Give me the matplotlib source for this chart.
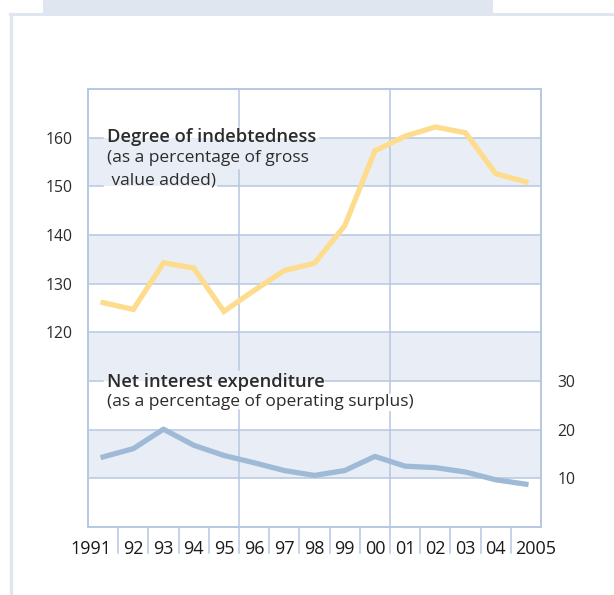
import matplotlib
matplotlib.use("Agg")
import matplotlib.pyplot as plt
from matplotlib.patches import Rectangle
from matplotlib.lines import Line2D
from matplotlib.transforms import ScaledTranslation

years = list(range(1991, 2006))
year_labels = ["1991", "92", "93", "94", "95", "96", "97", "98", "99", "00",
               "01", "02", "03", "04", "2005"]
indebtedness = [126.1, 124.7, 134.3, 133.2, 124.3, 128.6, 132.7, 134.2,
                141.9, 157.3, 160.3, 162.2, 161.0, 152.6, 150.9]
net_interest = [14.4, 16.1, 20.1, 16.8, 14.7, 13.2, 11.6, 10.6, 11.6, 14.5,
                12.5, 12.2, 11.3, 9.7, 8.8]
left_ticks = [120, 130, 140, 150, 160]
right_ticks = [10, 20, 30]

plt.rcParams['font.family'] = ['Open Sans', 'DejaVu Sans']
TXT = '#2b2b2b'
GRID = '#B7C8E2'
BAND = '#E9EEF6'
FRAME = '#DFE6F0'
XLAB = 13
XPAD = 9

fig = plt.figure(figsize=(6.14, 5.95), dpi=100)
W, H = 614, 595

# page frame decorations
fig.patches.append(Rectangle((43 / W, 1 - 14 / H), 450 / W, 14 / H,
                             transform=fig.transFigure, facecolor=FRAME,
                             edgecolor='none', zorder=0))
fig.lines.append(Line2D([10 / W, 1], [1 - 14 / H, 1 - 14 / H],
                        transform=fig.transFigure, color=FRAME, lw=2.2))
fig.lines.append(Line2D([11 / W, 11 / W], [0, 1 - 14 / H],
                        transform=fig.transFigure, color=FRAME, lw=2.4))

ax = fig.add_axes([88 / W, 1 - 527 / H, 453 / W, 438 / H])
ax.set_xlim(1990.5, 2005.5)
ax.set_ylim(80, 170)

# alternating bands
for lo in range(90, 170, 20):
    ax.axhspan(lo, lo + 10, facecolor=BAND, edgecolor='none', zorder=0)

# horizontal grid lines (with gaps behind labels)
gaps_h = {160: (0.033, 0.512), 150: (0.033, 0.287), 110: (0.033, 0.523)}
for y in range(90, 170, 10):
    if y in gaps_h:
        a, b = gaps_h[y]
        ax.axhline(y, 0, a, color=GRID, lw=1.1, zorder=1)
        ax.axhline(y, b, 1, color=GRID, lw=1.1, zorder=1)
    else:
        ax.axhline(y, color=GRID, lw=1.1, zorder=1)

# vertical grid lines (with gaps)
gaps_v = {1995.5: [(0.815, 0.913), (0.267, 0.358)], 2000.5: [(0.263, 0.306)]}
for x, gaps in gaps_v.items():
    segs = []
    start = 0.0
    for a, b in sorted(gaps):
        segs.append((start, a))
        start = b
    segs.append((start, 1.0))
    for a, b in segs:
        ax.axvline(x, a, b, color=GRID, lw=1.1, zorder=1)

# tick separators below axis
for i in range(len(years) - 1):
    xs = (years[i] + years[i + 1]) / 2
    ax.plot([xs, xs], [0, -0.06], transform=ax.get_xaxis_transform(),
            color=GRID, lw=1.1, clip_on=False, zorder=1)

ax.plot(years, indebtedness, color='#FDDC8E', lw=3.8, solid_joinstyle='miter',
        zorder=3)

ax2 = ax.twinx()
ax2.set_ylim(0, 90)
ax2.plot(years, net_interest, color='#9FBAD7', lw=3.8, zorder=3)

for a in (ax, ax2):
    for s in a.spines.values():
        s.set_color(GRID)
        s.set_linewidth(1.3)

ax.set_yticks(left_ticks)
ax.set_yticklabels([str(t) for t in left_ticks])
ax.tick_params(axis='y', length=0, pad=11, labelsize=11.3, labelcolor=TXT)
ax2.set_yticks(right_ticks)
ax2.set_yticklabels([str(t) for t in right_ticks])
ax2.tick_params(axis='y', length=0, pad=12, labelsize=11.3, labelcolor=TXT)

# x labels: middle ones as ticks, end ones aligned against separators
ax.set_xticks(years)
ax.set_xticklabels([""] + year_labels[1:-1] + [""])
ax.tick_params(axis='x', length=0, pad=XPAD, labelsize=XLAB, labelcolor='#1a1a1a')
xt = ax.get_xaxis_transform()
ax.text(years[0] + 0.5, 0, year_labels[0], ha='right', va='top',
        fontsize=XLAB, color='#1a1a1a', clip_on=False,
        transform=xt + ScaledTranslation(-5 / 72, -XPAD / 72, fig.dpi_scale_trans))
ax.text(years[-1] - 0.5, 0, year_labels[-1], ha='left', va='top',
        fontsize=XLAB, color='#1a1a1a', clip_on=False,
        transform=xt + ScaledTranslation(3 / 72, -XPAD / 72, fig.dpi_scale_trans))

# annotations
ax.text(0.042, 0.890, 'Degree of indebtedness', transform=ax.transAxes,
        fontsize=13.2, fontweight='semibold', color=TXT, va='center', ha='left')
ax.text(0.042, 0.842, '(as a percentage of gross', transform=ax.transAxes,
        fontsize=12.5, color=TXT, va='center', ha='left')
ax.text(0.042, 0.792, ' value added)', transform=ax.transAxes,
        fontsize=12.5, color=TXT, va='center', ha='left')
ax.text(0.042, 0.331, 'Net interest expenditure', transform=ax.transAxes,
        fontsize=13.2, fontweight='semibold', color=TXT, va='center', ha='left')
ax.text(0.042, 0.285, '(as a percentage of operating surplus)',
        transform=ax.transAxes, fontsize=12.5, color=TXT, va='center', ha='left')

fig.savefig('out.png', dpi=100, facecolor='white')
